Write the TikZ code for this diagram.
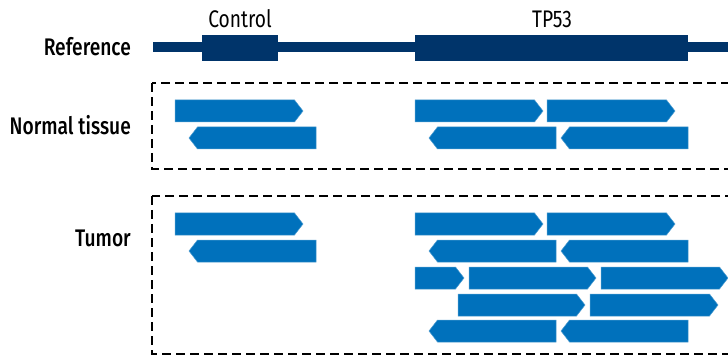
\documentclass[tikz,border=0pt]{standalone}
\usepackage{fontspec}
\setmainfont{Fira Sans}[FakeStretch=0.8]
\newfontfamily\labelfont{Fira Sans Medium}[FakeStretch=0.8]
\definecolor{navy}{HTML}{00346A}
\definecolor{readblue}{HTML}{0071BC}
\tikzset{
  genome/.style={fill=navy},
  readbox/.style={fill=readblue, draw=readblue!70!white, line width=0.5pt},
  sample/.style={draw=black, dash pattern=on 9pt off 5pt, line width=2.8pt},
  rowlabel/.style={anchor=east, inner sep=0pt, font=\labelfont\fontsize{24}{28}\selectfont},
  genelabel/.style={inner sep=0pt, font=\fontsize{24}{28}\selectfont},
}
% forward read: \fwdread{x start}{x tip}{top y}
\newcommand{\fwdread}[3]{%
  \path[readbox] (#1,#3) -- (#2-8.5,#3) -- (#2,#3+11) -- (#2-8.5,#3+22) -- (#1,#3+22) -- cycle;}
% reverse read: \revread{x tip}{x end}{top y}
\newcommand{\revread}[3]{%
  \path[readbox] (#1+8.5,#3) -- (#2,#3) -- (#2,#3+22) -- (#1+8.5,#3+22) -- (#1,#3+11) -- cycle;}
\begin{document}
\begin{tikzpicture}[x=1pt, y=-1pt]
\clip (0,0) rectangle (728,358);
\fill[white] (0,0) rectangle (728,358);

% reference genome with the two target regions
\fill[genome] (153,42) rectangle (730,52);
\fill[genome] (202,35) rectangle (278,61);
\fill[genome] (415,35) rectangle (688,61);
\node[genelabel] (ctrl) at (240,19) {Control};
\node[genelabel] (tp53) at (552,19) {TP53};

% row labels
\node[rowlabel] (ref) at (131,47) {Reference};
\node[rowlabel] (normal) at (131,125) {Normal tissue};
\node[rowlabel] (tumor) at (131,238) {Tumor};

% sample boxes
\draw[sample] (152,83) rectangle (740,169);
\draw[sample] (152,196) rectangle (740,354);

% normal tissue reads
\fwdread{175}{303}{100}
\revread{189}{316}{127}
\fwdread{415}{543}{100}
\fwdread{547}{675}{100}
\revread{429}{556}{127}
\revread{561}{688}{127}

% tumor reads
\fwdread{175}{303}{213}
\revread{189}{316}{240}
\fwdread{415}{543}{213}
\fwdread{547}{675}{213}
\revread{429}{556}{240}
\revread{561}{688}{240}
\fwdread{415}{464}{267}
\fwdread{469}{596}{267}
\fwdread{601}{728}{267}
\fwdread{458}{585}{294}
\fwdread{590}{718}{294}
\revread{429}{556}{320}
\revread{561}{688}{320}
\end{tikzpicture}
\end{document}
